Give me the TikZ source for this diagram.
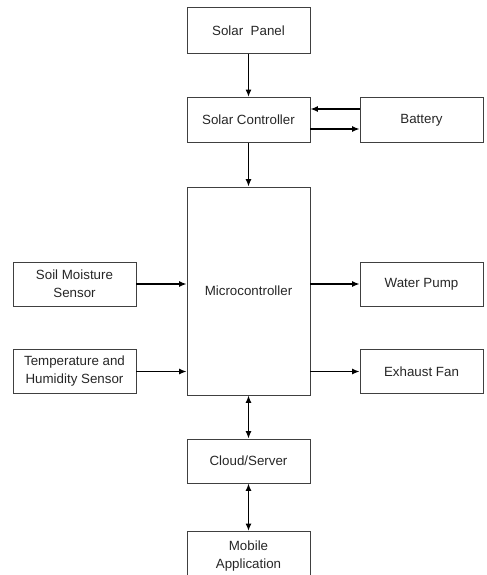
\documentclass[tikz,border=0pt]{standalone}
\usepackage{fontspec}
\setmainfont{Liberation Sans}
\usetikzlibrary{arrows.meta}

\tikzset{
    block/.style={draw=black!75,line width=.7pt,minimum width=92.25pt,minimum height=34pt,
        inner sep=1pt,align=center,font=\fontsize{10}{13.5}\selectfont,text=black!85},
    link/.style={-{Latex[length=5.5pt,width=4.5pt]},line width=1pt},
    twoway/.style={{Latex[length=5.5pt,width=4.5pt]}-{Latex[length=5.5pt,width=4.5pt]},line width=1pt}
}

\begin{document}
\begin{tikzpicture}[x=0.75pt,y=-0.75pt]
        \useasboundingbox (0,0) rectangle (486,575);
        \node[block] (panel) at (248.5,30.5) {Solar~ Panel};
        \node[block] (ctrl) at (248.5,120) {Solar Controller};
        \node[block] (battery) at (421.5,120) {Battery};
        \node[block,minimum height=156pt] (mcu) at (248.5,291) {Microcontroller};
        \node[block,minimum height=33pt] (soil) at (74.5,284) {Soil Moisture\\Sensor};
        \node[block,minimum height=33.5pt] (temp) at (74.5,371.5) {Temperature and\\Humidity Sensor};
        \node[block,minimum height=33pt] (pump) at (421.5,284) {Water Pump};
        \node[block,minimum height=33.5pt] (fan) at (421.5,371.5) {Exhaust Fan};
        \node[block,minimum height=33pt] (cloud) at (248.5,461) {Cloud/Server};
        \node[block,minimum height=37pt] (mobile) at (248.5,556) {Mobile\\Application};
        %
        \draw[link] (panel) -- (ctrl);
        \draw[link] (ctrl) -- (mcu);
        \draw[link] ([yshift=8.25pt]battery.west) -- ([yshift=8.25pt]ctrl.east);
        \draw[link] ([yshift=-6.75pt]ctrl.east) -- ([yshift=-6.75pt]battery.west);
        \draw[link] (soil.east) -- (soil.east -| mcu.west);
        \draw[link] (temp.east) -- (temp.east -| mcu.west);
        \draw[link] (pump.west -| mcu.east) -- (pump.west);
        \draw[link] (fan.west -| mcu.east) -- (fan.west);
        \draw[twoway] (mcu) -- (cloud);
        \draw[twoway] (cloud) -- (mobile);
    \end{tikzpicture}
\end{document}
